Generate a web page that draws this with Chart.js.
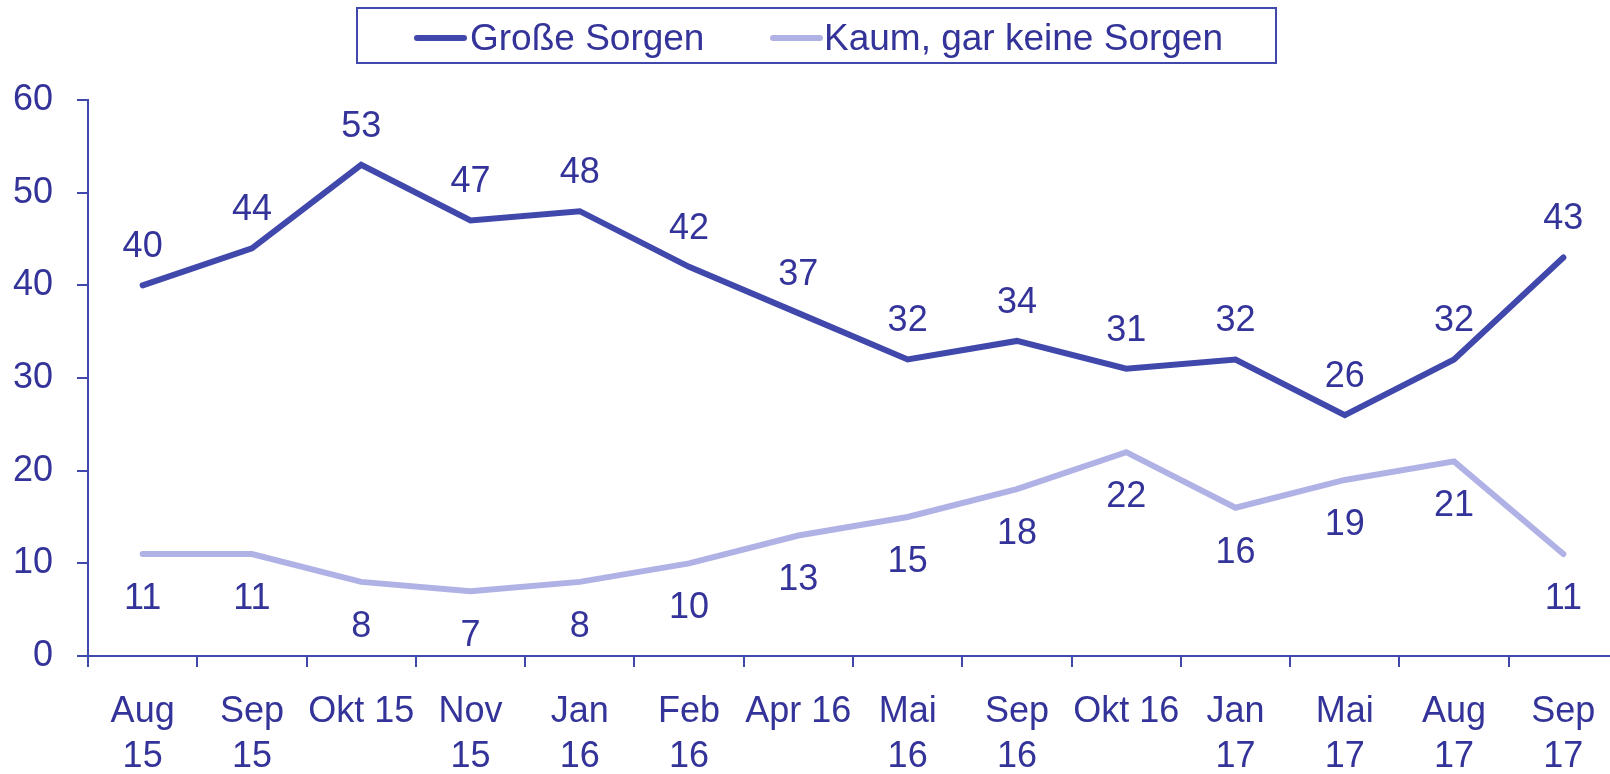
<!DOCTYPE html>
<html>
<head>
<meta charset="utf-8">
<script src="https://cdn.jsdelivr.net/npm/chart.js@4.4.0/dist/chart.umd.min.js"></script>
<style>
  html, body { margin: 0; padding: 0; background: #fff; overflow: hidden; }
  #wrap { position: relative; width: 1610px; height: 774px; overflow: hidden; }
  #chart { position: absolute; left: 0; top: 0; }
  #legend {
    position: absolute; left: 356px; top: 7px; width: 921px; height: 57px;
    box-sizing: border-box; border: 2px solid #4048ac; background: #fff;
    font-family: "Liberation Sans", Arial, sans-serif; font-size: 37px; color: #333399;
  }
  #legend .sample { position: absolute; top: 26px; width: 53px; height: 6px; border-radius: 3px; }
  #legend .txt { position: absolute; top: 1px; line-height: 56px; white-space: nowrap; }
</style>
</head>
<body>
<div id="wrap">
  <canvas id="chart" width="1630" height="774"></canvas>
  <div id="legend">
    <div class="sample" style="left:56px;background:#4048ac"></div>
    <span class="txt" style="left:112px">Große Sorgen</span>
    <div class="sample" style="left:412px;background:#b0b2e6"></div>
    <span class="txt" style="left:466px">Kaum, gar keine Sorgen</span>
  </div>
</div>
<script>
const labels = [
  ['Aug', '15'], ['Sep', '15'], 'Okt 15', ['Nov', '15'], ['Jan', '16'], ['Feb', '16'], 'Apr 16',
  ['Mai', '16'], ['Sep', '16'], 'Okt 16', ['Jan', '17'], ['Mai', '17'], ['Aug', '17'], ['Sep', '17']
];
const grosseSorgen = [40, 44, 53, 47, 48, 42, 37, 32, 34, 31, 32, 26, 32, 43];
const kaumSorgen = [11, 11, 8, 7, 8, 10, 13, 15, 18, 22, 16, 19, 21, 11];

const axisColor = '#4048ac';
const textColor = '#333399';
const fontFamily = '"Liberation Sans", Arial, sans-serif';

// Werte an die Punkte schreiben: obere Linie darüber, untere darunter
const valueLabels = {
  id: 'valueLabels',
  afterDatasetsDraw(chart) {
    const ctx = chart.ctx;
    ctx.save();
    ctx.font = '36px ' + fontFamily;
    ctx.fillStyle = textColor;
    ctx.textAlign = 'center';
    ctx.textBaseline = 'middle';
    chart.data.datasets.forEach((ds, i) => {
      const meta = chart.getDatasetMeta(i);
      const offset = i === 0 ? -38 : 45;
      meta.data.forEach((pt, j) => {
        ctx.fillText(String(ds.data[j]), pt.x, pt.y + offset);
      });
    });
    ctx.restore();
  }
};

new Chart(document.getElementById('chart'), {
  type: 'line',
  data: {
    labels: labels,
    datasets: [
      {
        label: 'Große Sorgen',
        data: grosseSorgen,
        borderColor: '#4048ac',
        backgroundColor: '#4048ac',
        borderWidth: 6,
        borderCapStyle: 'round',
        pointRadius: 0,
        tension: 0
      },
      {
        label: 'Kaum, gar keine Sorgen',
        data: kaumSorgen,
        borderColor: '#b0b2e6',
        backgroundColor: '#b0b2e6',
        borderWidth: 6,
        borderCapStyle: 'round',
        pointRadius: 0,
        tension: 0
      }
    ]
  },
  options: {
    responsive: false,
    animation: false,
    devicePixelRatio: 1,
    layout: { padding: { top: 100, right: 12, bottom: 0, left: 0 } },
    plugins: {
      legend: { display: false },
      tooltip: { enabled: false }
    },
    scales: {
      x: {
        offset: true,
        border: { color: axisColor, width: 2 },
        grid: { offset: true, drawOnChartArea: false, drawTicks: true, tickLength: 11, color: axisColor, lineWidth: 2 },
        ticks: {
          color: textColor,
          font: { family: fontFamily, size: 36, lineHeight: 1.25 },
          padding: 23,
          autoSkip: false,
          maxRotation: 0
        },
        afterFit(scale) { scale.height = 118; }
      },
      y: {
        min: 0,
        max: 60,
        border: { color: axisColor, width: 2 },
        grid: { drawOnChartArea: false, drawTicks: true, tickLength: 11, color: axisColor, lineWidth: 2 },
        ticks: {
          stepSize: 10,
          color: textColor,
          font: { family: fontFamily, size: 36 },
          padding: 24
        },
        afterFit(scale) { scale.width = 88; }
      }
    }
  },
  plugins: [valueLabels]
});
</script>
</body>
</html>
